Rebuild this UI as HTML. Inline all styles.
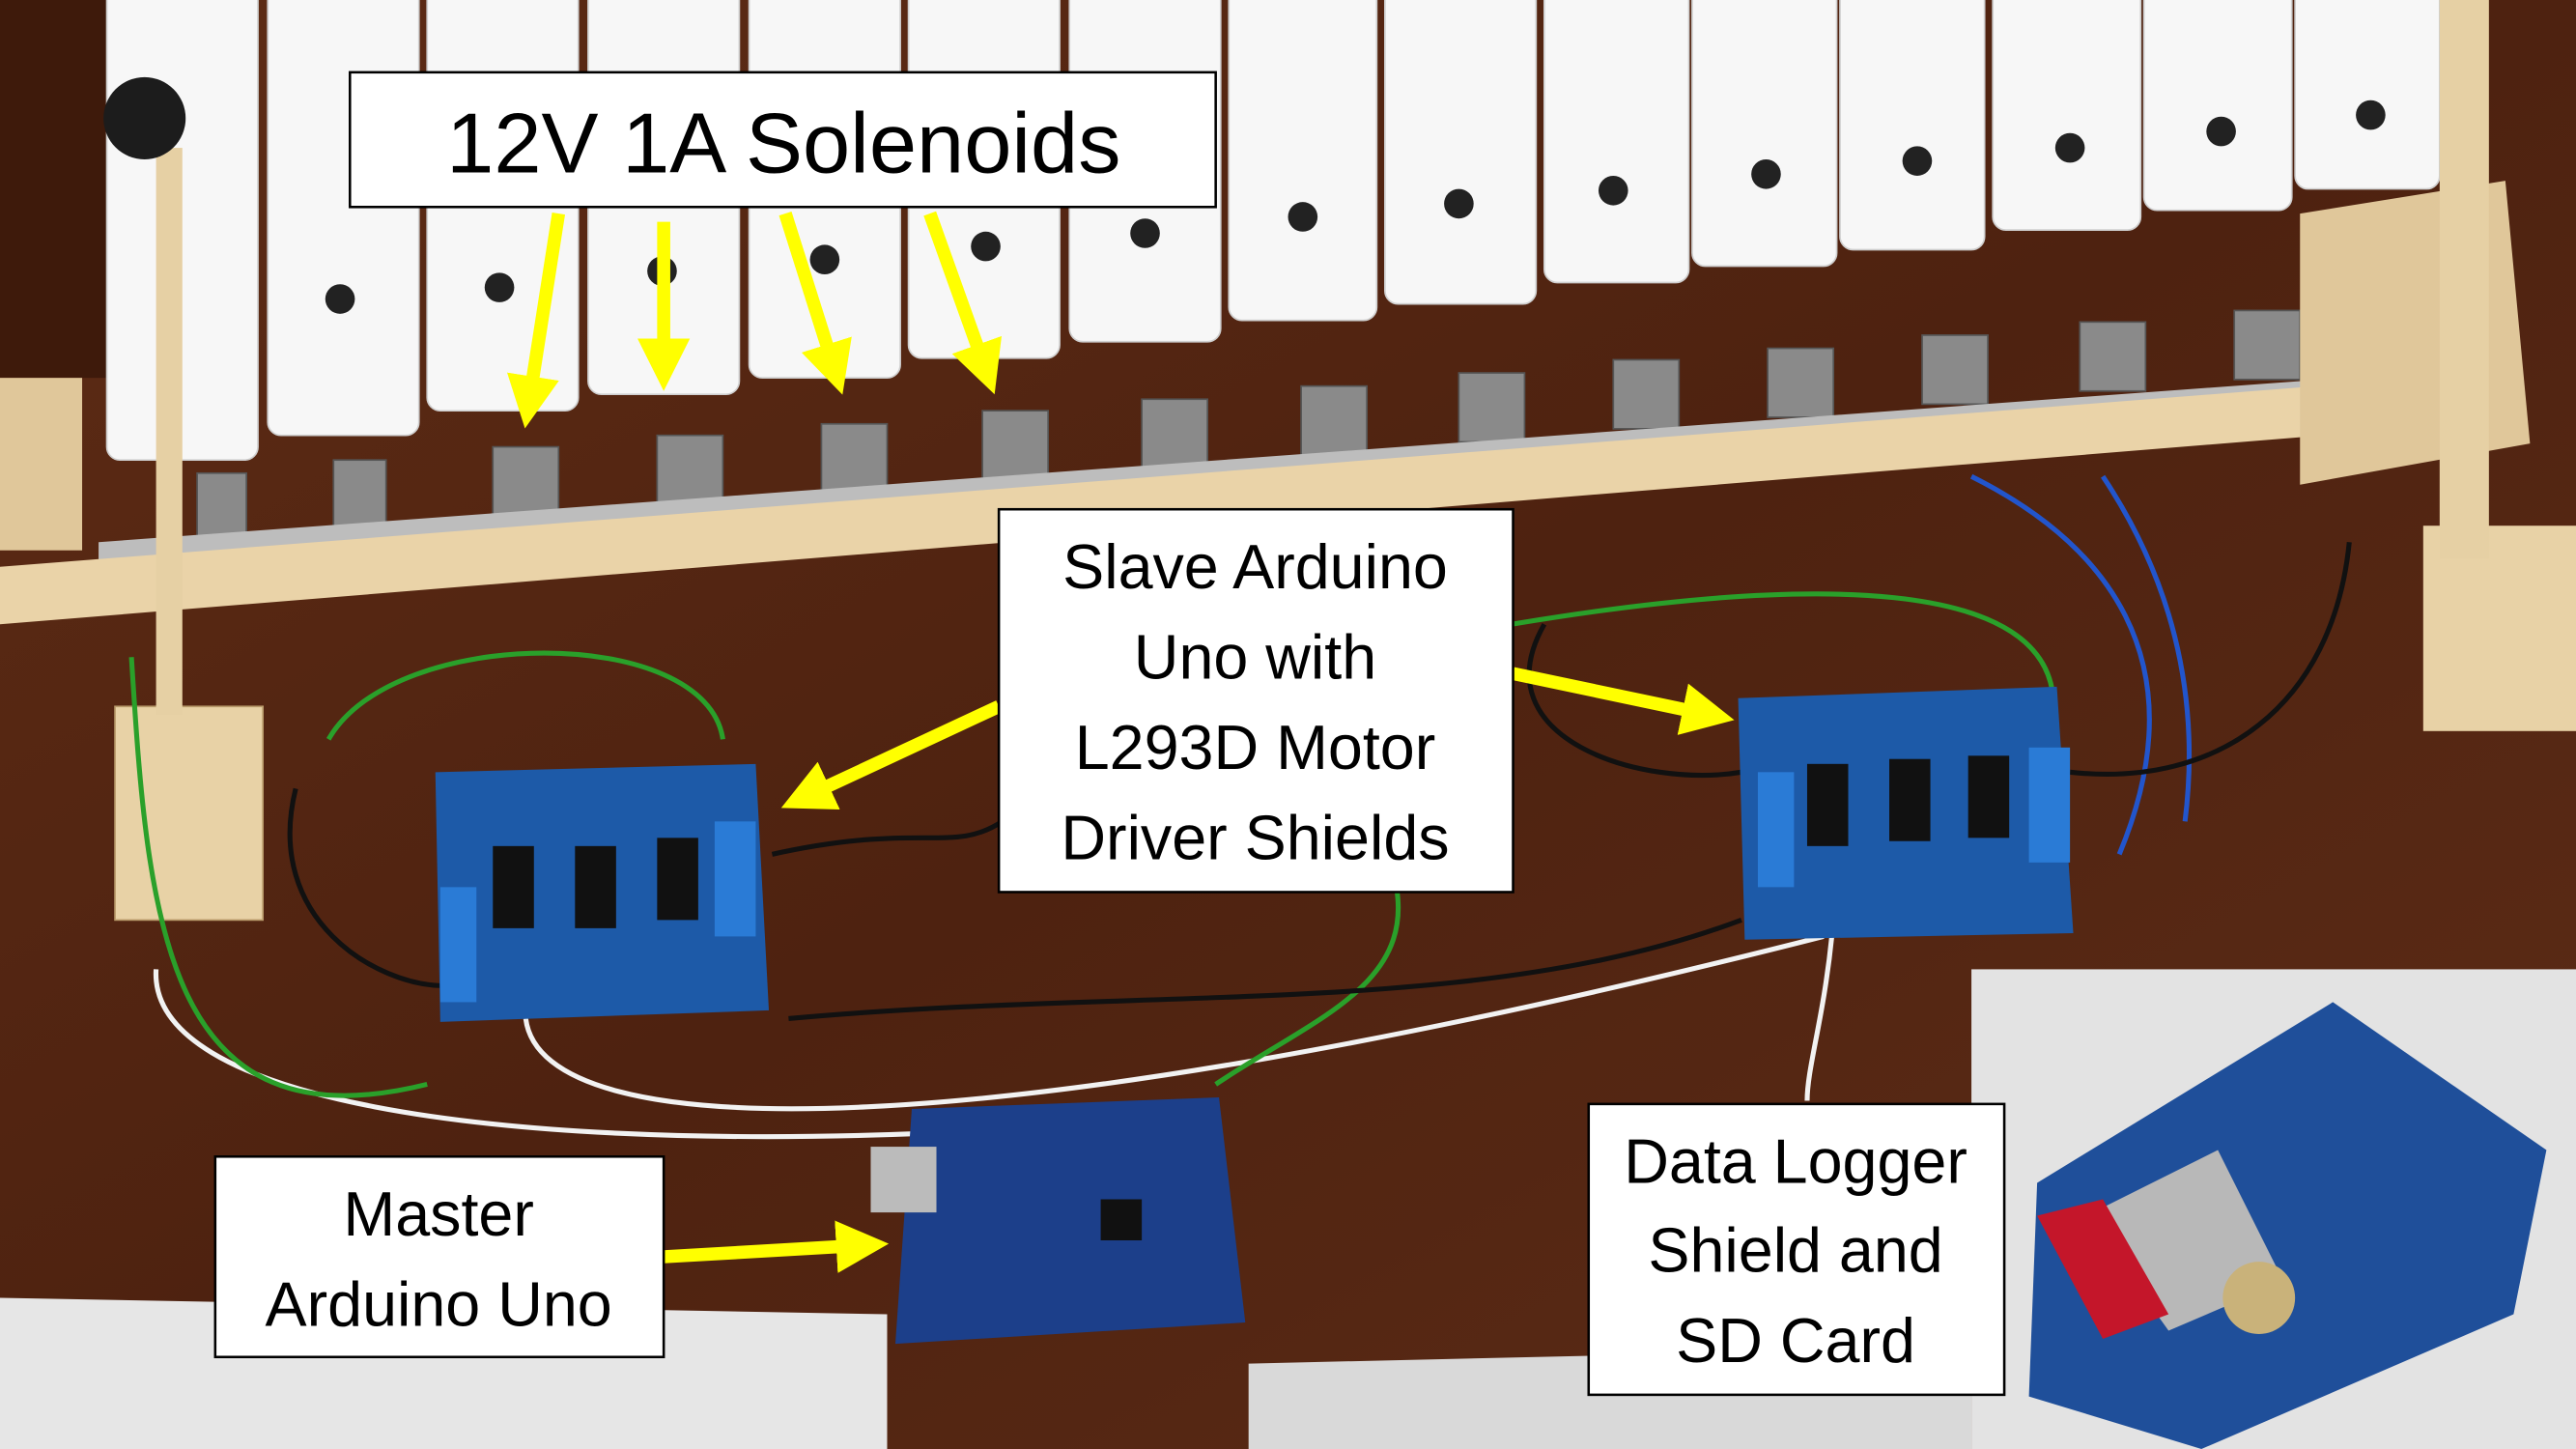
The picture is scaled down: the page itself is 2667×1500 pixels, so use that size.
<!DOCTYPE html>
<html><head><meta charset="utf-8"><style>
html,body{margin:0;padding:0;width:2667px;height:1500px;overflow:hidden;background:#4a2210}
svg{display:block}
text{font-family:"Liberation Sans",sans-serif;fill:#000}
</style></head><body>
<svg width="2667" height="1500" viewBox="0 0 1568 882" preserveAspectRatio="none">
<defs>
<linearGradient id="wood" x1="0" y1="0" x2="1" y2="1">
<stop offset="0" stop-color="#5e2c15"/><stop offset="0.5" stop-color="#4e2210"/><stop offset="1" stop-color="#5e2d17"/></linearGradient>
<marker id="ah" markerWidth="4" markerHeight="4" refX="2" refY="2" orient="auto" markerUnits="strokeWidth"><path d="M0,0 L4,2 L0,4z" fill="#ffff00"/></marker>
</defs>
<rect width="1568" height="882" fill="url(#wood)"/>
<rect x="0" y="0" width="65" height="230" fill="#3e1a0b"/>
<polygon points="0,790 540,800 540,882 0,882" fill="#e6e6e6"/>
<polygon points="760,830 1200,820 1200,882 760,882" fill="#d9d9d9"/>
<g fill="#f7f7f7" stroke="#cfcfcf" stroke-width="1">
<rect x="65" y="-10" width="92" height="290" rx="8"/>
<rect x="163" y="-10" width="92" height="275" rx="8"/>
<rect x="260" y="-10" width="92" height="260" rx="8"/>
<rect x="358" y="-10" width="92" height="250" rx="8"/>
<rect x="456" y="-10" width="92" height="240" rx="8"/>
<rect x="553" y="-10" width="92" height="228" rx="8"/>
<rect x="651" y="-10" width="92" height="218" rx="8"/>
<rect x="748" y="-10" width="90" height="205" rx="8"/>
<rect x="843" y="-10" width="92" height="195" rx="8"/>
<rect x="940" y="-10" width="88" height="182" rx="8"/>
<rect x="1030" y="-10" width="88" height="172" rx="8"/>
<rect x="1120" y="-10" width="88" height="162" rx="8"/>
<rect x="1213" y="-10" width="90" height="150" rx="8"/>
<rect x="1305" y="-10" width="90" height="138" rx="8"/>
<rect x="1397" y="-10" width="88" height="125" rx="8"/>
</g>
<g fill="#222">
<circle cx="207" cy="182" r="9"/><circle cx="304" cy="175" r="9"/><circle cx="403" cy="165" r="9"/><circle cx="502" cy="158" r="9"/><circle cx="600" cy="150" r="9"/><circle cx="697" cy="142" r="9"/><circle cx="793" cy="132" r="9"/><circle cx="888" cy="124" r="9"/><circle cx="982" cy="116" r="9"/><circle cx="1075" cy="106" r="9"/><circle cx="1167" cy="98" r="9"/><circle cx="1260" cy="90" r="9"/><circle cx="1352" cy="80" r="9"/><circle cx="1443" cy="70" r="9"/>
</g>
<g fill="#8a8a8a" stroke="#555">
<rect x="120" y="288" width="30" height="40"/><rect x="203" y="280" width="32" height="42"/><rect x="300" y="272" width="40" height="45"/><rect x="400" y="265" width="40" height="45"/><rect x="500" y="258" width="40" height="45"/><rect x="598" y="250" width="40" height="45"/><rect x="695" y="243" width="40" height="42"/><rect x="792" y="235" width="40" height="42"/><rect x="888" y="227" width="40" height="42"/><rect x="982" y="219" width="40" height="42"/><rect x="1076" y="212" width="40" height="42"/><rect x="1170" y="204" width="40" height="42"/><rect x="1266" y="196" width="40" height="42"/><rect x="1360" y="189" width="40" height="42"/><rect x="1450" y="182" width="35" height="40"/>
</g>
<polygon points="60,330 1495,225 1495,255 60,370" fill="#bdbdbd"/>
<polygon points="0,345 1500,228 1500,258 0,380" fill="#ead3a8"/>
<rect x="0" y="230" width="50" height="105" fill="#e0c79a"/>
<rect x="70" y="430" width="90" height="130" fill="#e8d2a6" stroke="#b89a6a"/>
<rect x="95" y="90" width="16" height="345" fill="#e6d0a4"/>
<circle cx="88" cy="72" r="25" fill="#1c1c1c"/>
<polygon points="1400,130 1525,110 1540,270 1400,295" fill="#e0c79a"/>
<rect x="1475" y="320" width="95" height="125" fill="#e8d2a6"/>
<rect x="1485" y="0" width="30" height="340" fill="#e6d0a4"/>
<g fill="none" stroke-width="3">
<path d="M95,590 C90,670 300,700 560,690" stroke="#f2f2f2"/>
<path d="M320,620 C330,700 600,700 1110,570" stroke="#f2f2f2"/>
<path d="M1115,570 C1110,620 1100,650 1100,670" stroke="#f2f2f2"/>
<path d="M200,450 C240,380 430,380 440,450" stroke="#2aa02a"/>
<path d="M80,400 C90,560 100,700 260,660" stroke="#2aa02a"/>
<path d="M740,660 C800,620 860,600 850,540" stroke="#2aa02a"/>
<path d="M920,380 C1100,350 1250,350 1250,430" stroke="#2aa02a"/>
<path d="M1200,290 C1280,330 1340,400 1290,520" stroke="#2255cc"/>
<path d="M1280,290 C1320,350 1340,420 1330,500" stroke="#2255cc"/>
<path d="M180,480 C160,560 230,600 270,600 M470,520 C560,500 580,520 610,500 M940,380 C900,450 1000,480 1060,470 M1260,470 C1350,480 1420,430 1430,330 M480,620 C700,600 900,620 1060,560" stroke="#111"/>
</g>
<g>
<polygon points="265,470 460,465 468,615 268,622" fill="#1d5aa8"/>
<polygon points="1058,425 1252,418 1262,568 1062,572" fill="#1d5aa8"/>
<polygon points="555,675 742,668 758,805 545,818" fill="#1c3f8a"/>
<g fill="#111"><rect x="300" y="515" width="25" height="50"/><rect x="350" y="515" width="25" height="50"/><rect x="400" y="510" width="25" height="50"/><rect x="1100" y="465" width="25" height="50"/><rect x="1150" y="462" width="25" height="50"/><rect x="1198" y="460" width="25" height="50"/><rect x="670" y="730" width="25" height="25"/></g>
<g fill="#2a7bd6"><rect x="435" y="500" width="25" height="70"/><rect x="1235" y="455" width="25" height="70"/><rect x="1070" y="470" width="22" height="70"/><rect x="268" y="540" width="22" height="70"/></g>
<rect x="530" y="698" width="40" height="40" fill="#bbb"/>
</g>
<rect x="1200" y="590" width="368" height="292" fill="#e3e3e3"/>
<polygon points="1240,720 1420,610 1550,700 1530,800 1340,882 1235,850" fill="#1f4f9a"/>
<polygon points="1270,740 1350,700 1390,780 1320,810" fill="#b8b8b8"/>
<polygon points="1240,740 1280,730 1320,800 1280,815" fill="#c4162a"/>
<circle cx="1375" cy="790" r="22" fill="#c9b27a"/>
<g stroke="#ffff00" stroke-width="8" fill="none" marker-end="url(#ah)">
<line x1="340" y1="130" x2="322" y2="245"/>
<line x1="404" y1="135" x2="404" y2="222"/>
<line x1="478" y1="130" x2="508" y2="225"/>
<line x1="566" y1="130" x2="600" y2="225"/>
<line x1="608" y1="430" x2="490" y2="485"/>
<line x1="921" y1="410" x2="1040" y2="435"/>
<line x1="404" y1="765" x2="525" y2="758"/>
</g>
<g fill="#fff" stroke="#000" stroke-width="1.5">
<rect x="213" y="44" width="527" height="82"/>
<rect x="608" y="310" width="313" height="233"/>
<rect x="131" y="704" width="273" height="122"/>
<rect x="967" y="672" width="253" height="177"/>
</g>
<text x="477" y="105" font-size="52" text-anchor="middle">12V 1A Solenoids</text>
<g font-size="38" text-anchor="middle">
<text x="764" y="358">Slave Arduino</text>
<text x="764" y="413">Uno with</text>
<text x="764" y="468">L293D Motor</text>
<text x="764" y="523">Driver Shields</text>
<text x="267" y="752">Master</text>
<text x="267" y="807">Arduino Uno</text>
<text x="1093" y="720">Data Logger</text>
<text x="1093" y="774">Shield and</text>
<text x="1093" y="829">SD Card</text>
</g>
</svg>
</body></html>
